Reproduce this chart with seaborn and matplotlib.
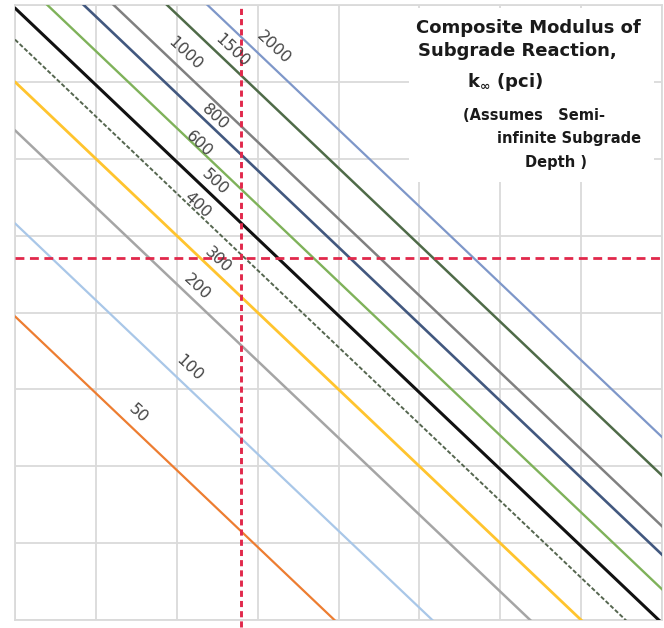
import matplotlib
matplotlib.use("Agg")
import matplotlib.pyplot as plt
import seaborn as sns
import numpy as np
import pandas as pd
from matplotlib.patches import Rectangle

# Composite modulus of subgrade reaction (pci) and where each iso-line meets x = 0
k_values = [50, 100, 200, 300, 400, 500, 600, 800, 1000, 1500, 2000]
k_intercepts = [3.95, 5.16, 6.37, 7.0, 7.55, 7.96, 8.4, 8.85, 9.22, 9.88, 10.38]
x_span = [0.0, 11.0]

# Reference cross-hair reading
x_read = 2.79
y_read = 4.71

sns.set_style("whitegrid")
plt.rcParams["font.family"] = ["DejaVu Sans"]

W, H, DPI = 664, 628, 100
fig = plt.figure(figsize=(W / DPI, H / DPI), dpi=DPI)
ax = fig.add_axes([15 / W, 8 / H, 647 / W, 615 / H])

styles = {
    50:   dict(color="#ED7D31", lw=1.6),
    100:  dict(color="#A9C7E8", lw=1.6),
    200:  dict(color="#A5A5A5", lw=1.8),
    300:  dict(color="#FFC42E", lw=2.0),
    400:  dict(color="#55664F", lw=1.4, ls=(0, (2.2, 1.1))),
    500:  dict(color="#111111", lw=2.2),
    600:  dict(color="#7FB25A", lw=1.7),
    800:  dict(color="#42587F", lw=1.9),
    1000: dict(color="#808080", lw=1.8),
    1500: dict(color="#4F6B48", lw=1.8),
    2000: dict(color="#7E97C9", lw=1.6),
}

for k, c in zip(k_values, k_intercepts):
    xs = np.array(x_span)
    df = pd.DataFrame({"x": xs, "y": c - xs})
    st = styles[k]
    sns.lineplot(data=df, x="x", y="y", ax=ax, color=st["color"], lw=st["lw"],
                 linestyle=st.get("ls", "-"), zorder=3)

ax.set_xlim(0, 8)
ax.set_ylim(0, 8)
ax.set_xticks(range(9))
ax.set_yticks(range(9))
ax.tick_params(length=0, labelbottom=False, labelleft=False)
ax.set_xlabel("")
ax.set_ylabel("")
ax.grid(True, color="#DADADA", lw=1.3)
for sp in ax.spines.values():
    sp.set_color("#DADADA")
    sp.set_linewidth(1.3)

# White block behind the legend text
ax.add_patch(Rectangle((0.609, 0.712), 0.378, 0.283, transform=ax.transAxes,
                       facecolor="white", edgecolor="none", zorder=1))

# Red dashed cross-hair
red = "#E1284B"
ax.axvline(x_read, ymin=-0.012, ymax=1.0, color=red, lw=2.1,
           ls=(0, (2.1, 1.4)), zorder=4, clip_on=False)
ax.axhline(y_read, color=red, lw=2.0, ls=(0, (3.2, 2.0)), zorder=4)

# Line labels
label_pos = {
    2000: (3.195, 7.45), 1500: (2.687, 7.41), 1000: (2.105, 7.37),
    800: (2.477, 6.54), 600: (2.279, 6.19), 500: (2.477, 5.70),
    400: (2.254, 5.40), 300: (2.514, 4.68), 200: (2.254, 4.33),
    100: (2.155, 3.28), 50: (1.523, 2.68),
}
for k in k_values:
    x, y = label_pos[k]
    ax.text(x, y, str(k), rotation=-43, rotation_mode="anchor",
            ha="center", va="center", fontsize=11.5, color="#454545", zorder=5)

# Legend heading
def ftext(px, py, s, **kw):
    fig.text(px / W, 1 - py / H, s, ha="left", va="center", color="#1A1A1A", **kw)

ftext(416, 28, "Composite Modulus of", fontsize=13, fontweight="bold")
ftext(418, 51, "Subgrade Reaction,", fontsize=13, fontweight="bold")
ftext(467, 82, r"k$_\mathbf{\infty}$ (pci)", fontsize=13, fontweight="bold")
ftext(463, 115, "(Assumes   Semi-", fontsize=10.5, fontweight="bold")
ftext(497, 139, "infinite Subgrade", fontsize=10.5, fontweight="bold")
ftext(525, 163, "Depth )", fontsize=10.5, fontweight="bold")

fig.savefig("out.png", dpi=DPI, facecolor="white")
